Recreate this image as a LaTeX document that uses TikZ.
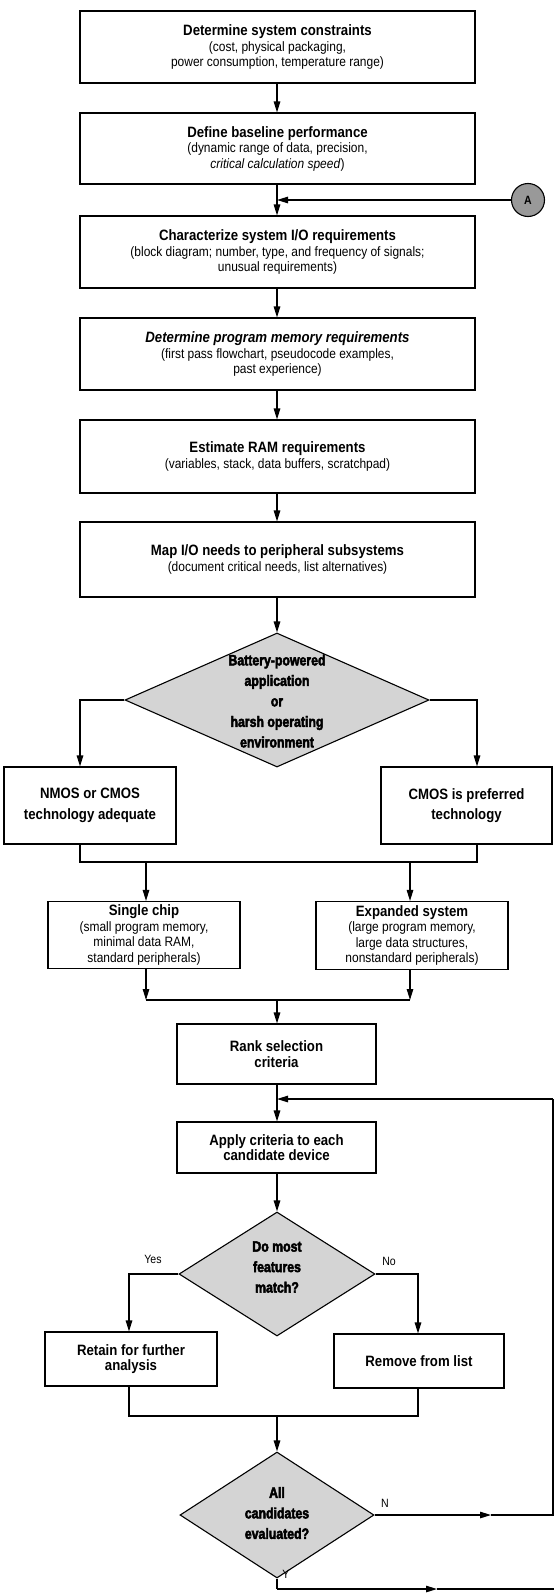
\documentclass[tikz,border=0pt]{standalone}
\usepackage{fontspec}
\setmainfont{Liberation Sans}[FakeStretch=0.88]
\newfontfamily\heavyfont{Liberation Sans}[FakeStretch=0.82, BoldFeatures={FakeBold=3}]
\usetikzlibrary{arrows.meta, shapes.geometric}
\newcommand\bt[1]{{\fontsize{15}{15.5}\selectfont\bfseries #1}}
\newcommand\bti[1]{{\fontsize{15}{15.5}\selectfont\bfseries\itshape #1}}
\begin{document}
\begin{tikzpicture}[x=1pt, y=-1pt, line width=1.2pt,
  >={Triangle[length=11pt,width=6.5pt]},
  box/.style={draw, line width=1.1pt, align=center, inner sep=0pt,
    font=\fontsize{13.6}{15.5}\selectfont},
  mainbox/.style={box, minimum width=395pt},
  dia/.style={draw, diamond, fill=black!17, inner sep=0pt, line width=1.1pt},
  dtext/.style={align=center, font=\heavyfont\bfseries\fontsize{15}{20.5}\selectfont},
  lbl/.style={font=\fontsize{12}{12}\selectfont, inner sep=0pt}
]
\useasboundingbox (0,0) rectangle (554,1595);
\coordinate (cx) at (277,0);

% main column boxes
\node[mainbox, minimum height=72pt] (b1) at (277.5,47)
  {\bt{Determine system constraints}\\(cost, physical packaging,\\power consumption, temperature range)};
\node[mainbox, minimum height=71pt] (b2) at (277.5,148.5)
  {\bt{Define baseline performance}\\(dynamic range of data, precision,\\\textit{critical calculation speed})};
\node[mainbox, minimum height=72pt] (b3) at (277.5,252)
  {\bt{Characterize system I/O requirements}\\(block diagram; number, type, and frequency of signals;\\unusual requirements)};
\node[mainbox, minimum height=72pt] (b4) at (277.5,354)
  {\bti{Determine program memory requirements}\\(first pass flowchart, pseudocode examples,\\past experience)};
\node[mainbox, minimum height=73pt] (b5) at (277.5,456.5)
  {\bt{Estimate RAM requirements}\\(variables, stack, data buffers, scratchpad)};
\node[mainbox, minimum height=75pt] (b6) at (277.5,559.5)
  {\bt{Map I/O needs to peripheral subsystems}\\(document critical needs, list alternatives)};

\draw[->] (b1.south -| cx) -- (b2.north -| cx);
\draw[->] (b2.south -| cx) -- (b3.north -| cx);
\draw[->] (b3.south -| cx) -- (b4.north -| cx);
\draw[->] (b4.south -| cx) -- (b5.north -| cx);
\draw[->] (b5.south -| cx) -- (b6.north -| cx);

% connector A
\node[circle, draw, fill=black!40, minimum size=33pt, inner sep=0pt, line width=1.1pt,
  font=\bfseries\fontsize{12}{12}\selectfont] (A) at (528,200) {A};
\draw[->] (A.west) -- (A.west -| cx);

% first decision
\node[dia, minimum width=304pt, minimum height=134pt] (d1) at (277,700) {};
\node[dtext] (d1t) at (277,701) {Battery-powered\\application\\or\\harsh operating\\environment};
\draw[->] (b6.south -| cx) -- (d1.north);

\node[box, minimum width=172pt, minimum height=77pt] (nm) at (90,805.5)
  {\bt{NMOS or CMOS}\\[5pt]\bt{technology adequate}};
\node[box, minimum width=171pt, minimum height=77pt] (cm) at (466.5,805.5)
  {\bt{CMOS is preferred}\\[5pt]\bt{technology}};

\coordinate (lx) at (80,0);
\coordinate (rx) at (477,0);
\coordinate (m1) at (0,862);
\coordinate (sx) at (146,0);
\coordinate (ex) at (410,0);
\draw[->] (d1.west) -| (nm.north -| lx);
\draw[->] (d1.east) -| (cm.north -| rx);
\draw (nm.south -| lx) |- (m1 -| rx) -- (cm.south -| rx);

\node[box, minimum width=192pt, minimum height=67pt] (sc) at (144,935)
  {\bt{Single chip}\\(small program memory,\\minimal data RAM,\\standard peripherals)};
\node[box, minimum width=192pt, minimum height=68pt] (es) at (412,935.5)
  {\bt{Expanded system}\\(large program memory,\\large data structures,\\nonstandard peripherals)};
\draw[->] (m1 -| sx) -- (sc.north -| sx);
\draw[->] (m1 -| ex) -- (es.north -| ex);

\coordinate (m2) at (0,1000);
\draw[->] (sc.south -| sx) -- (m2 -| sx);
\draw[->] (es.south -| ex) -- (m2 -| ex);
\draw (m2 -| sx) -- (m2 -| ex);

\node[box, minimum width=199pt, minimum height=60pt] (rk) at (276.5,1054)
  {\bt{Rank selection}\\\bt{criteria}};
\draw[->] (m2 -| cx) -- (rk.north -| cx);

\node[box, minimum width=199pt, minimum height=51pt] (ap) at (276.5,1147.5)
  {\bt{Apply criteria to each}\\\bt{candidate device}};
\draw[->] (rk.south -| cx) -- (ap.north -| cx);

% second decision
\node[dia, minimum width=196pt, minimum height=124pt] (d2) at (277,1274) {};
\node[dtext] (d2t) at (277,1267) {Do most\\features\\match?};
\draw[->] (ap.south -| cx) -- (d2.north);

\node[box, minimum width=172pt, minimum height=54pt] (rt) at (131,1359)
  {\bt{Retain for further}\\\bt{analysis}};
\node[box, minimum width=170pt, minimum height=54pt] (rm) at (419,1361)
  {\bt{Remove from list}};
\coordinate (yx) at (129,0);
\coordinate (nx) at (418,0);
\draw[->] (d2.west) -| (rt.north -| yx);
\draw[->] (d2.east) -| (rm.north -| nx);
\node[lbl] (yes) at (153,1259) {Yes};
\node[lbl] (no) at (389,1261) {No};

\coordinate (m3) at (0,1416);
\draw (rt.south -| yx) |- (m3 -| nx) -- (rm.south -| nx);

% third decision
\node[dia, minimum width=194pt, minimum height=126pt] (d3) at (277,1515) {};
\node[dtext] (d3t) at (277,1513) {All\\candidates\\evaluated?};
\draw[->] (m3 -| cx) -- (d3.north);

\coordinate (na) at (491,1515);
\coordinate (ne) at (553,1515);
\coordinate (fb) at (553,1099);
\draw[->] (d3.east) -- (na);
\draw (na) -- (ne) -- (fb);
\draw[->] (fb) -- (fb -| cx);
\node[lbl] (nlab) at (385,1503) {N};

\coordinate (yb) at (277,1589);
\coordinate (ya) at (437,1589);
\coordinate (ye) at (554,1589);
\draw (d3.south) -- (yb);
\draw[->] (yb) -- (ya);
\draw (ya) -- (ye);
\node[lbl] (ylab) at (286,1574) {Y};
\end{tikzpicture}
\end{document}
